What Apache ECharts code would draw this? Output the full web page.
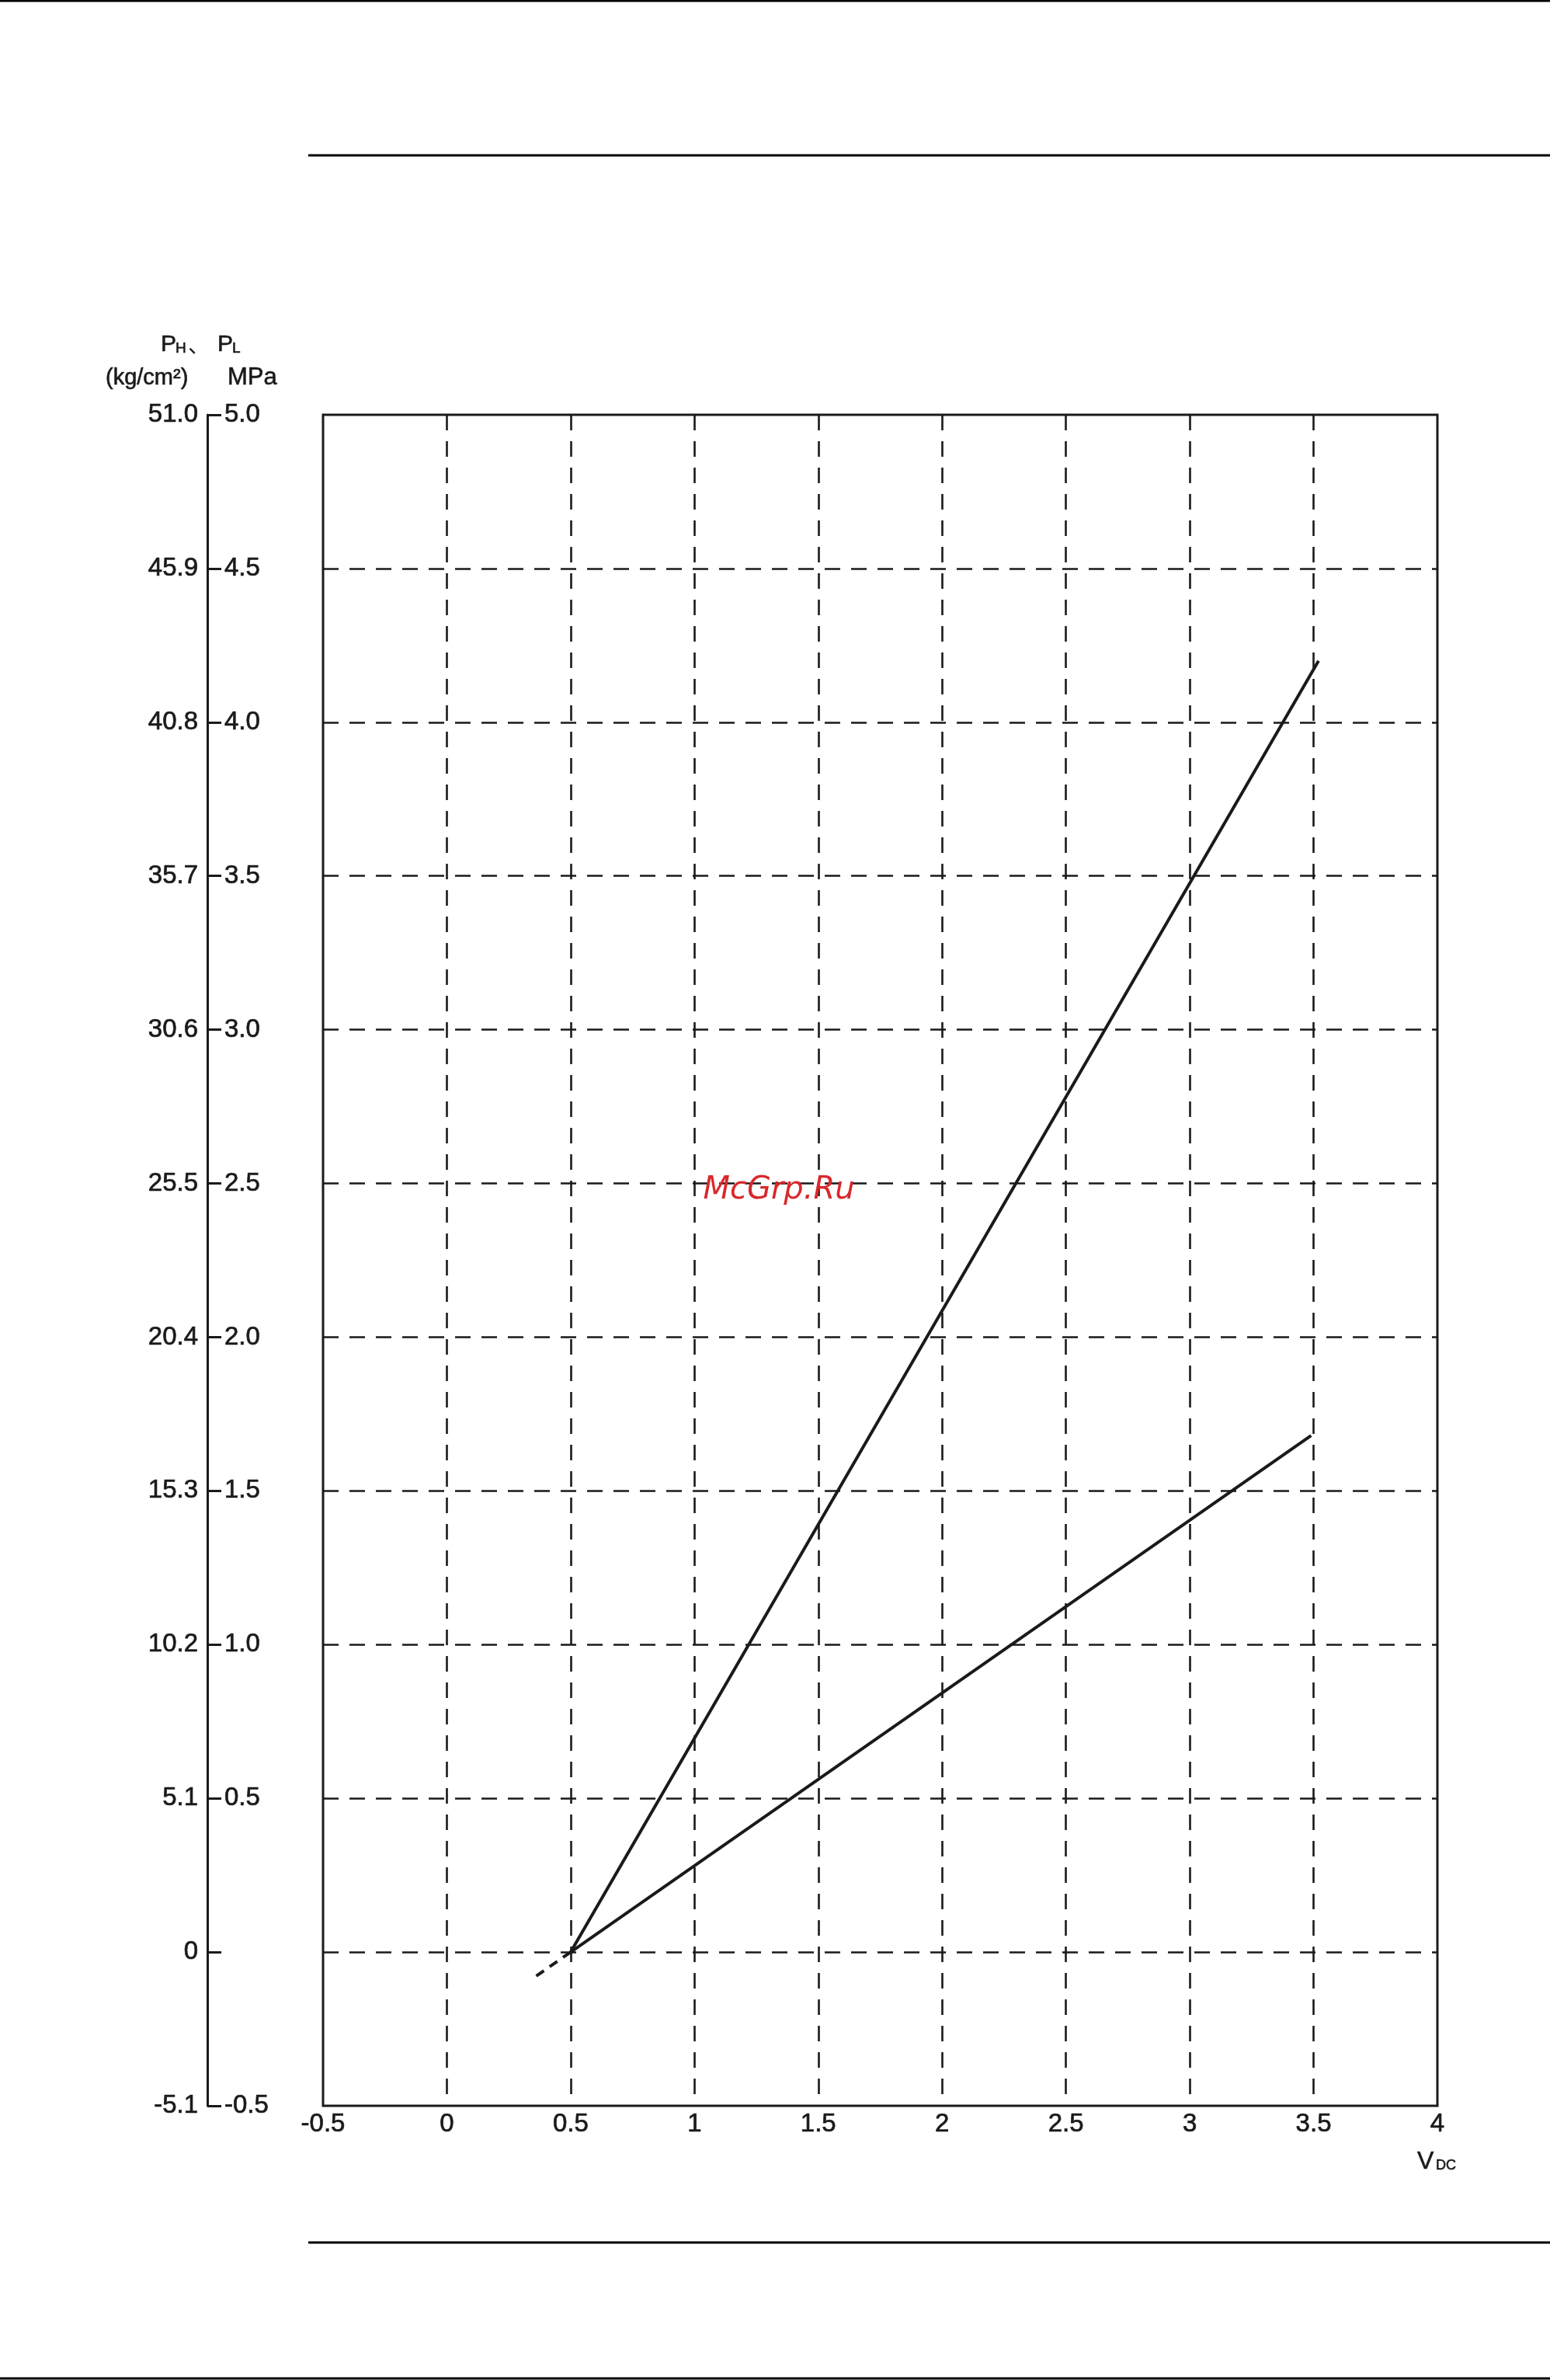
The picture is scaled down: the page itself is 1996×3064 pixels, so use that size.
<!DOCTYPE html>
<html>
<head>
<meta charset="utf-8">
<script src="https://cdn.jsdelivr.net/npm/echarts@6/dist/echarts.min.js"></script>
<style>
html,body{margin:0;padding:0;background:#fff;}
#c{width:1996px;height:3064px;}
</style>
</head>
<body>
<div id="c"></div>
<script>
// ---- data ----
const xMin = -0.5, xMax = 4, xStep = 0.5;
const yMin = -0.5, yMax = 5, yStep = 0.5;
const phLine = [[0.5, 0], [3.52, 4.2]];
const plLine = [[0.5, 0], [3.49, 1.68]];
const plExtension = [[0.5, 0], [0.345, -0.087]];
const mpaLabels = ['-0.5', '', '0.5', '1.0', '1.5', '2.0', '2.5', '3.0', '3.5', '4.0', '4.5', '5.0'];
const kgLabels = ['-5.1', '0', '5.1', '10.2', '15.3', '20.4', '25.5', '30.6', '35.7', '40.8', '45.9', '51.0'];

// ---- style ----
const FONT = 'Liberation Sans, Arial, sans-serif';
const INK = '#1a1a1a';
const G = { left: 416, top: 534, width: 1435, height: 2177 };
const idx = v => Math.round((v - yMin) / yStep);
const labelStyle = { fontFamily: FONT, fontSize: 33, color: INK, textBorderColor: INK, textBorderWidth: 0.7 };

function txt(x, y, text, size) {
  return {
    type: 'text', x: x, y: y, silent: true,
    style: { text: text, font: size + 'px ' + FONT, fill: INK, stroke: INK, lineWidth: 0.6, align: 'left', verticalAlign: 'middle' }
  };
}
function rule(x1, y1, x2, y2, w) {
  return { type: 'line', silent: true, shape: { x1: x1, y1: y1, x2: x2, y2: y2 }, style: { stroke: '#000', lineWidth: w } };
}

const chart = echarts.init(document.getElementById('c'), null, { renderer: 'canvas' });
chart.setOption({
  backgroundColor: '#fff',
  animation: false,
  grid: Object.assign({ show: true, borderColor: INK, borderWidth: 3, backgroundColor: 'transparent', containLabel: false, outerBoundsMode: 'none' }, G),
  xAxis: {
    type: 'value', min: xMin, max: xMax, interval: xStep,
    axisLine: { show: false }, axisTick: { show: false },
    axisLabel: Object.assign({ margin: 7 }, labelStyle),
    splitLine: { show: true, showMinLine: false, showMaxLine: false, lineStyle: { color: INK, width: 2.6, type: [20, 14] } }
  },
  yAxis: [
    {
      type: 'value', min: yMin, max: yMax, interval: yStep,
      axisLine: { show: false }, axisTick: { show: false }, axisLabel: { show: false },
      splitLine: { show: true, showMinLine: false, showMaxLine: false, lineStyle: { color: INK, width: 2.6, type: [20, 14] } }
    },
    {
      type: 'value', min: yMin, max: yMax, interval: yStep, position: 'left', offset: 149,
      axisLine: { show: true, lineStyle: { color: INK, width: 3 } },
      axisTick: { show: true, inside: true, length: 18, lineStyle: { color: INK, width: 3 } },
      axisLabel: Object.assign({ inside: true, margin: 22, formatter: v => mpaLabels[idx(v)] }, labelStyle),
      splitLine: { show: false }
    },
    {
      type: 'value', min: yMin, max: yMax, interval: yStep, position: 'left', offset: 149,
      axisLine: { show: false }, axisTick: { show: false },
      axisLabel: Object.assign({ margin: 12, formatter: v => kgLabels[idx(v)] }, labelStyle),
      splitLine: { show: false }
    }
  ],
  series: [
    { type: 'line', name: 'PH', data: phLine, showSymbol: false, lineStyle: { color: INK, width: 4 }, z: 5 },
    { type: 'line', name: 'PL', data: plLine, showSymbol: false, lineStyle: { color: INK, width: 4 }, z: 5 },
    { type: 'line', name: 'PL-ext', data: plExtension, showSymbol: false, lineStyle: { color: INK, width: 4, type: [12, 9] }, z: 5 }
  ],
  graphic: [
    rule(0, 1, 1996, 1, 3),
    rule(397, 200, 1996, 200, 3),
    rule(397, 2887, 1996, 2887, 3),
    rule(0, 3062, 1996, 3062, 3),
    // y-axis title
    txt(207, 444, 'P', 30),
    txt(226, 449, 'H', 19),
    { type: 'text', x: 242, y: 443, silent: true, style: { text: '、', font: '28px Noto Sans CJK JP', fill: INK, align: 'left', verticalAlign: 'middle' } },
    txt(280, 444, 'P', 30),
    txt(299, 449, 'L', 19),
    txt(136, 487, '(kg/cm²)', 29),
    txt(293, 486, 'MPa', 31),
    // x-axis title
    txt(1825, 2783, 'V', 32),
    txt(1849, 2788, 'DC', 18),
    // watermark
    { type: 'text', x: 1003, y: 1533, silent: true, z: 100,
      style: { text: 'McGrp.Ru', font: 'italic 40px DejaVu Sans', fill: '#d8282c', align: 'center', verticalAlign: 'middle' } }
  ]
});
</script>
</body>
</html>
